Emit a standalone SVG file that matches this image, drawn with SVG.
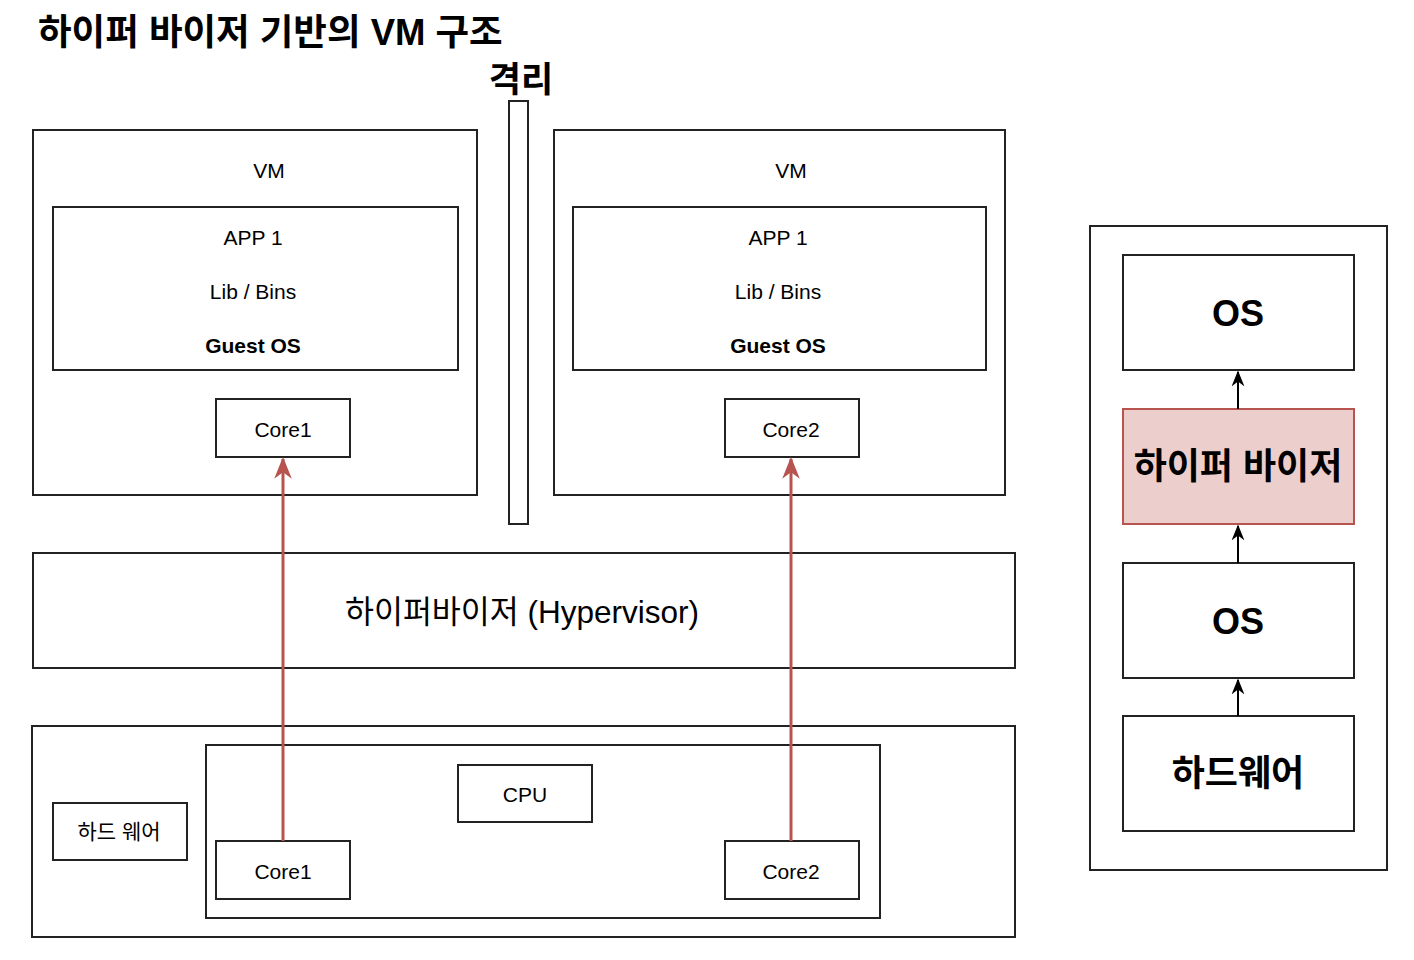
<svg xmlns="http://www.w3.org/2000/svg" width="1414" height="960" viewBox="0 0 1414 960">
<style>
rect{fill:#fff;stroke:#222;stroke-width:2}
text{font-family:"Liberation Sans","Noto Sans CJK KR",sans-serif;fill:#000;text-anchor:middle;dominant-baseline:central}
.s{font-size:21px}
.b{font-weight:bold}
.big{font-size:36px;font-weight:bold}
.red{stroke:#b85450;stroke-width:3;fill:none}
.blk{stroke:#000;stroke-width:2;fill:none}
</style>
<defs>
<marker id="ab" viewBox="0 0 10 10" refX="9" refY="5" markerWidth="16" markerHeight="16" markerUnits="userSpaceOnUse" orient="auto">
<path d="M0,1 L10,5 L0,9 L3,5 Z" fill="#000"/>
</marker>
<marker id="ar2" viewBox="0 0 10 10" refX="9" refY="5" markerWidth="22" markerHeight="22" markerUnits="userSpaceOnUse" orient="auto">
<path d="M0,1 L10,5 L0,9 L3,5 Z" fill="#b85450"/>
</marker>
</defs>
<g id="title">
<text x="38" y="32" style="font-size:36.5px;font-weight:bold;text-anchor:start">하이퍼 바이저 기반의 VM 구조</text>
</g>
<g id="isolation">
<text x="521" y="79" style="font-size:35px;font-weight:bold">격리</text>
<rect x="509" y="101" width="19" height="423"/>
</g>
<g id="vm1">
<rect x="33" y="130" width="444" height="365"/>
<text class="s" x="269" y="170">VM</text>
<rect x="53" y="207" width="405" height="163"/>
<text class="s" x="253" y="237">APP 1</text>
<text class="s" x="253" y="291">Lib / Bins</text>
<text class="s b" x="253" y="345">Guest OS</text>
</g>
<g id="vcore1">
<rect x="216" y="399" width="134" height="58"/>
<text class="s" x="283" y="429">Core1</text>
</g>
<g id="vm2">
<rect x="554" y="130" width="451" height="365"/>
<text class="s" x="791" y="170">VM</text>
<rect x="573" y="207" width="413" height="163"/>
<text class="s" x="778" y="237">APP 1</text>
<text class="s" x="778" y="291">Lib / Bins</text>
<text class="s b" x="778" y="345">Guest OS</text>
</g>
<g id="vcore2">
<rect x="725" y="399" width="134" height="58"/>
<text class="s" x="791" y="429">Core2</text>
</g>
<g id="hypervisor">
<rect x="33" y="553" width="982" height="115"/>
<text x="522" y="612" style="font-size:31.5px">하이퍼바이저 (Hypervisor)</text>
</g>
<g id="hardware">
<rect x="32" y="726" width="983" height="211"/>
<rect x="206" y="745" width="674" height="173"/>
</g>
<g id="cpu">
<rect x="458" y="765" width="134" height="57"/>
<text class="s" x="525" y="794">CPU</text>
</g>
<g id="hwlabel">
<rect x="53" y="803" width="134" height="57"/>
<text class="s" x="119" y="831">하드 웨어</text>
</g>
<g id="core1">
<rect x="216" y="841" width="134" height="58"/>
<text class="s" x="283" y="871">Core1</text>
</g>
<g id="core2">
<rect x="725" y="841" width="134" height="58"/>
<text class="s" x="791" y="871">Core2</text>
</g>
<g id="rightpanel">
<rect x="1090" y="226" width="297" height="644"/>
</g>
<g id="r-os1">
<rect x="1123" y="255" width="231" height="115"/>
<text class="big" x="1238" y="313">OS</text>
</g>
<g id="r-hyp">
<rect x="1123" y="409" width="231" height="115" style="fill:#eccfcd;stroke:#b85450"/>
<text class="big" x="1238" y="466">하이퍼 바이저</text>
</g>
<g id="r-os2">
<rect x="1123" y="563" width="231" height="115"/>
<text class="big" x="1238" y="621">OS</text>
</g>
<g id="r-hw">
<rect x="1123" y="716" width="231" height="115"/>
<text class="big" x="1238" y="773">하드웨어</text>
</g>
<g id="connectors">
<line class="red" x1="283" y1="841" x2="283" y2="459" marker-end="url(#ar2)"/>
<line class="red" x1="791" y1="841" x2="791" y2="459" marker-end="url(#ar2)"/>
<line class="blk" x1="1238" y1="409" x2="1238" y2="372" marker-end="url(#ab)"/>
<line class="blk" x1="1238" y1="563" x2="1238" y2="526" marker-end="url(#ab)"/>
<line class="blk" x1="1238" y1="716" x2="1238" y2="680" marker-end="url(#ab)"/>
</g>
</svg>
